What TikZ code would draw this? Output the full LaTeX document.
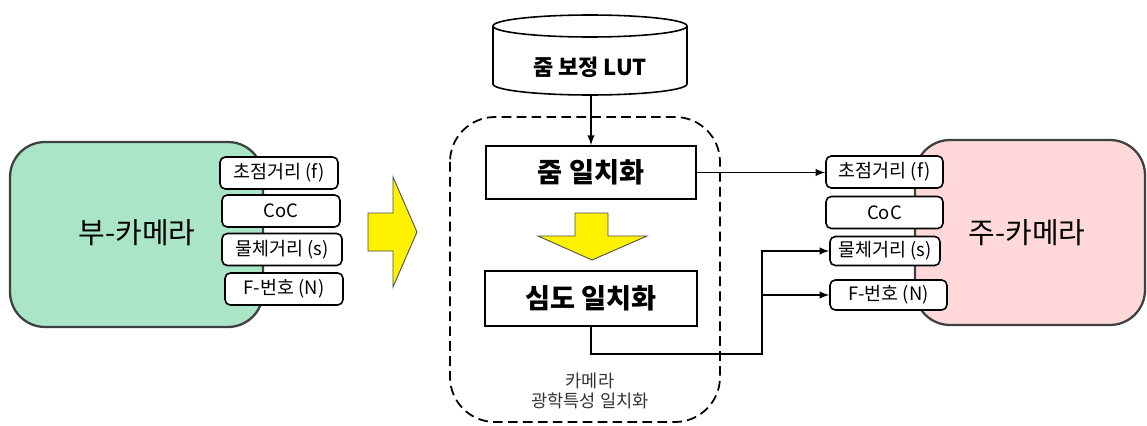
\documentclass[tikz,border=0pt]{standalone}
\usepackage{fontspec}
\setmainfont{Noto Sans CJK KR}
\usetikzlibrary{calc,positioning,shapes.geometric}
\definecolor{subgreen}{HTML}{A9E5C6}
\definecolor{mainpink}{HTML}{FFD9D9}

\begin{document}
\begin{tikzpicture}[x=0.02cm,y=-0.02cm,
        every node/.append style={black,inner sep=0pt},
        camera/.style={draw=black!75,line width=1.3pt,rounded corners=0.7cm},
        param/.style={draw,line width=0.9pt,rounded corners=3pt,fill=white,
            font=\fontsize{10.5}{12}\selectfont,minimum height=0.64cm},
        stage/.style={draw,line width=1pt,fill=white,font=\fontsize{15.5}{18}\selectfont\bfseries},
        link/.style={line width=0.9pt,-latex},
        yellowarrow/.style={draw=black!70,line width=0.5pt,fill=yellow}
    ]
    \useasboundingbox (0,0) rectangle (1147,426);

    % cameras
    \node[camera,fill=subgreen,minimum width=5.06cm,minimum height=3.7cm] (subcam) at (136.5,234.5) {};
    \node[font=\fontsize{16.5}{19}\selectfont] (sublabel) at (137,233) {부-카메라};
    \node[camera,fill=mainpink,minimum width=4.6cm,minimum height=3.7cm] (maincam) at (1030,232.5) {};
    \node[font=\fontsize{16.5}{19}\selectfont] (mainlabel) at (1027,233) {주-카메라};

    % parameters of the sub camera
    \node[param,minimum width=2.36cm] (subf) at (279,173) {초점거리 (f)};
    \node[param,minimum width=2.36cm] (subc) at (281,211) {CoC};
    \node[param,minimum width=2.4cm] (subs) at (282,249.5) {물체거리 (s)};
    \node[param,minimum width=2.36cm] (subn) at (284,289) {F-번호 (N)};

    % parameters of the main camera
    \node[param,minimum width=2.34cm] (mainf) at (884.5,172) {초점거리 (f)};
    \node[param,minimum width=2.34cm] (mainc) at (884.5,212.5) {CoC};
    \node[param,minimum width=2.2cm,minimum height=0.58cm] (mains) at (885,251) {물체거리 (s)};
    \node[param,minimum width=2.34cm,minimum height=0.6cm] (mainn) at (888.5,295) {F-번호 (N)};

    \draw[yellowarrow] (368,213) -- (393,213) -- (393,177) -- (417,232)
        -- (393,287) -- (393,251) -- (368,251) -- cycle;

    % matching block
    \draw[dashed,dash pattern=on 5.5pt off 3pt,line width=1pt,rounded corners=0.9cm]
        (450,117) rectangle (720,422);
    \draw[line width=0.9pt,fill=white] (493,26) -- (493,84)
        arc[start angle=180,end angle=360,x radius=1.94cm,y radius=0.22cm] -- (687,26);
    \draw[line width=0.9pt] (590,26) ellipse[x radius=1.94cm,y radius=0.22cm];
    \coordinate (lutbase) at (591,95);
    \node[font=\fontsize{12.5}{14}\selectfont\bfseries] (lutlabel) at (590,67) {줌 보정 LUT};
    \node[stage,minimum width=4.2cm,minimum height=1.06cm] (zoommatch) at (591,172.5) {줌 일치화};
    \node[stage,minimum width=4.24cm,minimum height=1.1cm] (dofmatch) at (591,298.5) {심도 일치화};
    \draw[yellowarrow] (575,213) -- (608,213) -- (608,236) -- (647,236)
        -- (592,260) -- (538,236) -- (575,236) -- cycle;
    \node[font=\fontsize{10}{11}\selectfont,align=center,text=black!80] (grouplabel) at (590,391)
        {카메라\\광학특성 일치화};

    % connectors
    \coordinate (bend) at (762,354);
    \draw[link] (lutbase) -- (lutbase |- zoommatch.north);
    \draw[link] (zoommatch.east) -- (zoommatch.east -| mainf.west);
    \draw[link] (dofmatch.south) |- (bend) -- (bend |- mains.west) -- (mains.west);
    \draw[link] (bend |- mainn.west) -- (mainn.west);
\end{tikzpicture}
\end{document}
